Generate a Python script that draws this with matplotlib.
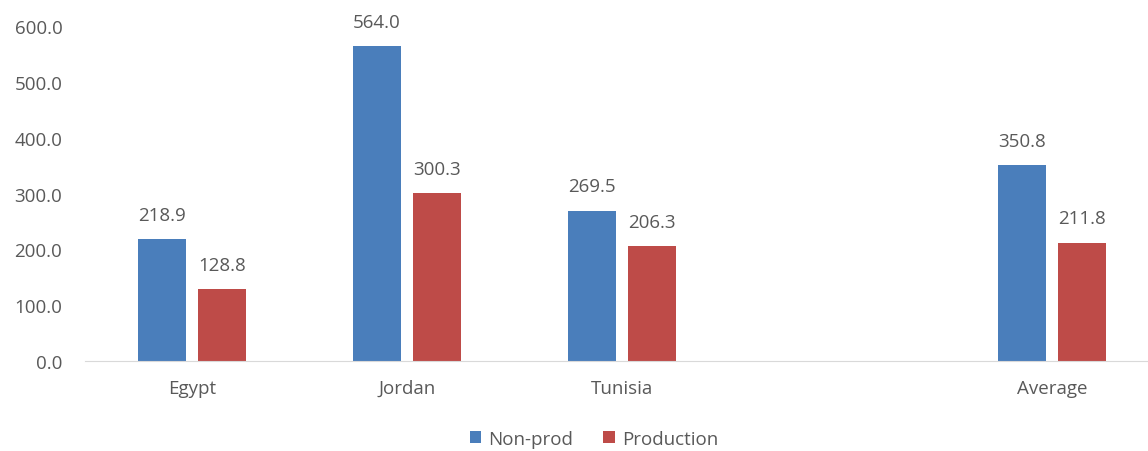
import numpy as np
import matplotlib.pyplot as plt

# данные
categories = ['Egypt', 'Jordan', 'Tunisia', '', 'Average']
non_prod = [218.9, 564.0, 269.5, np.nan, 350.8]
production = [128.8, 300.3, 206.3, np.nan, 211.8]
series_names = ['Non-prod', 'Production']

plt.rcParams['font.family'] = ['Open Sans', 'DejaVu Sans']
txt_col = '#595959'
fs = 13.5

fig = plt.figure(figsize=(11.48, 4.52), dpi=100)
ax = fig.add_axes([84.5 / 1148, 90 / 452, 1075 / 1148, 335 / 452])

x = np.arange(len(categories))
w = 0.224
b1 = ax.bar(x - 0.14, non_prod, w, color='#4A7EBB', label=series_names[0])
b2 = ax.bar(x + 0.14, production, w, color='#BE4B48', label=series_names[1])

# подписи значений
for bars, vals in ((b1, non_prod), (b2, production)):
    for r, v in zip(bars, vals):
        if np.isnan(v):
            continue
        ax.annotate(f'{v:.1f}', (r.get_x() + r.get_width() / 2, v),
                    xytext=(0, 11), textcoords='offset points',
                    ha='center', va='bottom', fontsize=fs, color=txt_col)

ax.set_xlim(-0.5, len(categories) - 0.5)
ax.set_ylim(0, 600)
ax.set_yticks(np.arange(0, 601, 100))
ax.set_yticklabels([f'{t:.1f}' for t in np.arange(0, 601, 100)])
ax.set_xticks(x)
ax.set_xticklabels(categories)
ax.tick_params(length=0, labelsize=fs, colors=txt_col)
ax.tick_params(axis='y', pad=16)
ax.tick_params(axis='x', pad=13)

for s in ['top', 'right', 'left']:
    ax.spines[s].set_visible(False)
ax.spines['bottom'].set_color('#D9D9D9')

fig.legend(loc='center', bbox_to_anchor=(594 / 1148, 1 - 440 / 452), ncol=2,
           frameon=False, fontsize=fs, handlelength=0.6, handleheight=0.6,
           handletextpad=0.4, columnspacing=1.6, labelcolor=txt_col)

fig.savefig('out.png', dpi=100)
